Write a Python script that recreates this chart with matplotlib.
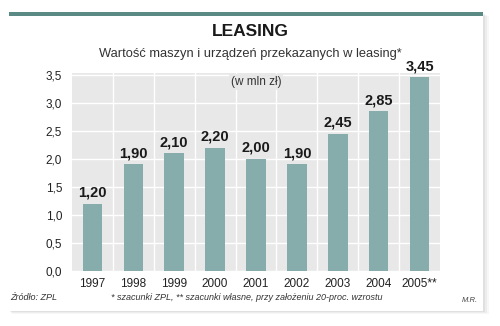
"""Leasing: value of machinery and equipment leased out, 1997-2005."""
import matplotlib
matplotlib.use("Agg")
import matplotlib.pyplot as plt
from matplotlib.patches import Rectangle
import numpy as np

years = ["1997", "1998", "1999", "2000", "2001", "2002", "2003", "2004", "2005**"]
values = [1.20, 1.90, 2.10, 2.20, 2.00, 1.90, 2.45, 2.85, 3.45]
yticks = [0.0, 0.5, 1.0, 1.5, 2.0, 2.5, 3.0, 3.5]

BAR = "#86adab"
STRIPE = "#5b8984"
PANEL_BG = "#e7e8e7"

plt.rcParams["font.family"] = ["Liberation Sans", "DejaVu Sans"]


def pl(v):
    return f"{v:.2f}".replace(".", ",")


fig = plt.figure(figsize=(5.0, 3.26), dpi=100)
fig.patch.set_facecolor("white")

# card with soft shadow
W, H = 500, 326
for i, a in enumerate([0.05, 0.05, 0.04, 0.03]):
    fig.add_artist(Rectangle(((9 + i) / W, 1 - (311 + i) / H), (474 + i) / W, (298) / H,
                             transform=fig.transFigure, facecolor="black", alpha=a,
                             edgecolor="none", zorder=0))
fig.add_artist(Rectangle((9 / W, 1 - 311 / H), 474 / W, 298 / H, transform=fig.transFigure,
                         facecolor="white", edgecolor="none", zorder=1))
fig.add_artist(Rectangle((9 / W, 1 - 16 / H), 474 / W, 4 / H, transform=fig.transFigure,
                         facecolor=STRIPE, edgecolor="none", zorder=2))

ax = fig.add_axes([72 / W, 1 - 271 / H, 368 / W, 198 / H], zorder=3)
ax.set_facecolor(PANEL_BG)
x = np.arange(len(years))
ax.bar(x, values, width=0.48, color=BAR, zorder=3)
for xi, v in zip(x, values):
    ax.text(xi, v + 0.07, pl(v), ha="center", va="bottom", fontsize=10.5,
            fontweight="bold", color="#1a1a1a", zorder=4)

ax.set_xlim(-0.5, len(years) - 0.5)
ax.set_ylim(0, 3.53)
ax.set_yticks(yticks)
ax.set_yticklabels([f"{t:.1f}".replace(".", ",") for t in yticks])
ax.set_xticks(x)
ax.set_xticklabels(years)
ax.set_xticks(np.arange(len(years) - 1) + 0.5, minor=True)
ax.grid(axis="y", which="major", color="white", linewidth=1.0, zorder=1)
ax.grid(axis="x", which="minor", color="white", linewidth=1.0, zorder=1)
ax.set_axisbelow(True)
ax.tick_params(axis="both", which="both", length=0, labelsize=8.5, colors="#222222")
ax.tick_params(axis="y", pad=7)
ax.tick_params(axis="x", pad=5)
for s in ax.spines.values():
    s.set_visible(False)

ax.text(0.5, 0.985, "(w mln zł)", transform=ax.transAxes, ha="center", va="top",
        fontsize=8.5, color="#333333", zorder=2,
        bbox=dict(facecolor=PANEL_BG, edgecolor="none", pad=1.5))

fig.text(250 / W, 1 - 31 / H, "LEASING", ha="center", va="center", fontsize=12.5,
         fontweight="bold", color="#1a1a1a", zorder=5)
fig.text(250 / W, 1 - 54 / H, "Wartość maszyn i urządzeń przekazanych w leasing*",
         ha="center", va="center", fontsize=9.3, color="#333333", zorder=5)
fig.text(10 / W, 1 - 298 / H, "Źródło: ZPL", ha="left", va="center", fontsize=6.5,
         style="italic", color="#333333", zorder=5)
fig.text(247 / W, 1 - 297 / H,
         "* szacunki ZPL, ** szacunki własne, przy założeniu 20-proc. wzrostu",
         ha="center", va="center", fontsize=6.5, style="italic", color="#333333", zorder=5)
fig.text(478 / W, 1 - 300 / H, "M.R.", ha="right", va="center", fontsize=5.5,
         style="italic", color="#444444", zorder=5)

fig.savefig("out.png", dpi=100, facecolor=fig.get_facecolor())
